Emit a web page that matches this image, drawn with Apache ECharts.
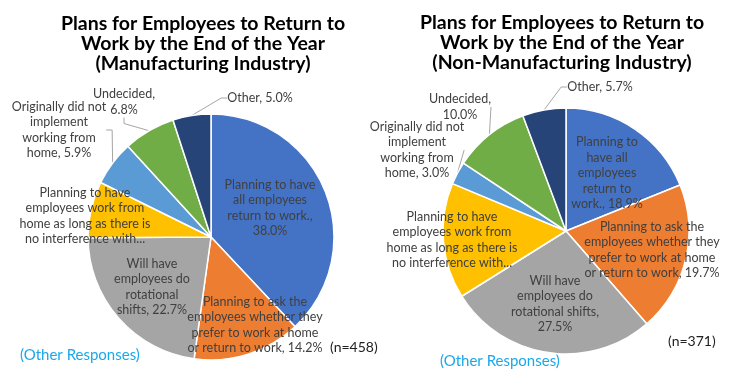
<!DOCTYPE html>
<html>
<head>
<meta charset="utf-8">
<script src="https://cdn.jsdelivr.net/npm/echarts@6/dist/echarts.min.js"></script>
<style>
  html, body { margin: 0; padding: 0; background: #fff; }
  #chart { width: 750px; height: 375px; }
</style>
</head>
<body>
<div id="chart"></div>
<script>
// slices, clockwise from 12 o'clock
const categories = [
  'Planning to have all employees return to work.',
  'Planning to ask the employees whether they prefer to work at home or return to work',
  'Will have employees do rotational shifts',
  'Planning to have employees work from home as long as there is no interference with...',
  'Originally did not implement working from home',
  'Undecided',
  'Other'
];
const mfgValues = [38.0, 14.2, 22.7, 7.4, 5.9, 6.8, 5.0];
const nonMfgValues = [18.9, 19.7, 27.5, 15.2, 3.0, 10.0, 5.7];

// label text as wrapped in the picture ({v} = value)
const mfgLabels = [
  'Planning to have\nall employees\nreturn to work.,\n{v}%',
  'Planning to ask the\nemployees whether they\nprefer to work at home\nor return to work, {v}%',
  'Will have\nemployees do\nrotational\nshifts, {v}%',
  'Planning to have\nemployees work from\nhome as long as there is\nno interference with...',
  'Originally did not\nimplement\nworking from\nhome, {v}%',
  'Undecided,\n{v}%',
  'Other, {v}%'
];
const nonMfgLabels = [
  'Planning to\nhave all\nemployees\nreturn to\nwork., {v}%',
  'Planning to ask the\nemployees whether they\nprefer to work at home\nor return to work, {v}%',
  'Will have\nemployees do\nrotational shifts,\n{v}%',
  'Planning to have\nemployees work from\nhome as long as there is\nno interference with...',
  'Originally did not\nimplement\nworking from\nhome, {v}%',
  'Undecided,\n{v}%',
  'Other, {v}%'
];

const colors = ['#4472C4', '#ED7D31', '#A5A5A5', '#FFC000', '#5B9BD5', '#70AD47', '#264478'];
const outsideIdx = [4, 5, 6];

// where Excel put each label (centre of text block)
const mfgLabelPos = [[270, 208], [255, 325], [152, 287], [85, 216], [59, 130], [124, 102], [260, 98]];
const nonMfgLabelPos = [[607, 173], [652, 250], [555, 304], [452, 240], [417, 150], [460, 107], [600, 87]];

const font = 'Lato, "Open Sans", sans-serif';

function buildSeries(values, labels, pos, center) {
  return {
    type: 'pie',
    center: center,
    radius: 123,
    startAngle: 90,
    clockwise: true,
    animation: false,
    silent: true,
    itemStyle: { borderColor: '#fff', borderWidth: 1.5 },
    labelLayout: function (p) {
      return { x: pos[p.dataIndex][0], y: pos[p.dataIndex][1], align: 'center', verticalAlign: 'middle' };
    },
    data: values.map((v, i) => ({
      name: categories[i],
      value: v,
      itemStyle: { color: colors[i] },
      label: {
        show: true,
        position: outsideIdx.indexOf(i) >= 0 ? 'outside' : 'inside',
        formatter: labels[i].replace('{v}', v.toFixed(1)),
        color: '#404040',
        fontFamily: font,
        fontSize: 12.5,
        lineHeight: 15.5,
        align: 'center',
        overflow: 'none'
      },
      labelLine: {
        show: outsideIdx.indexOf(i) >= 0,
        length: 6,
        length2: 6,
        lineStyle: { color: '#A6A6A6', width: 1 }
      }
    }))
  };
}

let myChart = echarts.init(document.getElementById('chart'));
myChart.setOption({
  backgroundColor: '#fff',
  title: [{
    text: 'Plans for Employees to Return to\nWork by the End of the Year\n(Manufacturing Industry)',
    left: 198, top: 9, textAlign: 'center',
    textStyle: { fontFamily: font, fontWeight: 'bold', fontSize: 19.5, lineHeight: 20, color: '#000' }
  }, {
    text: 'Plans for Employees to Return to\nWork by the End of the Year\n(Non-Manufacturing Industry)',
    left: 557, top: 8, textAlign: 'center',
    textStyle: { fontFamily: font, fontWeight: 'bold', fontSize: 19.5, lineHeight: 20, color: '#000' }
  }],
  graphic: [
    { type: 'text', left: 330, top: 340, style: { text: '(n=458)', font: '14px ' + font, fill: '#222' } },
    { type: 'text', left: 668, top: 334, style: { text: '(n=371)', font: '14px ' + font, fill: '#222' } },
    { type: 'text', left: 20, top: 348, style: { text: '(Other Responses)', font: '15px ' + font, fill: '#1BA8E8' } },
    { type: 'text', left: 440, top: 354, style: { text: '(Other Responses)', font: '15px ' + font, fill: '#1BA8E8' } }
  ],
  series: [
    buildSeries(mfgValues, mfgLabels, mfgLabelPos, [211, 237]),
    buildSeries(nonMfgValues, nonMfgLabels, nonMfgLabelPos, [566, 231])
  ]
});
</script>
</body>
</html>
